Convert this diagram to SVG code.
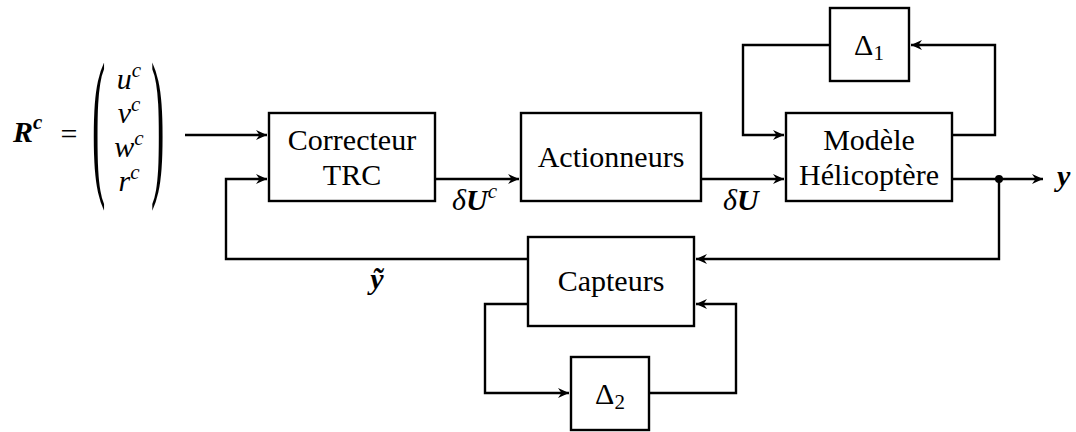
<svg xmlns="http://www.w3.org/2000/svg" width="1076" height="432" viewBox="0 0 1076 432">
<style>
.box{fill:#fff;stroke:#000;stroke-width:2.4}
.w{fill:none;stroke:#000;stroke-width:2.4;stroke-linejoin:miter}
text{font-family:Tinos,'Times New Roman',Times,'Liberation Serif','Noto Serif','DejaVu Serif',FreeSerif,Georgia,serif;font-size:30px;fill:#000}
.c{text-anchor:middle}
.m{font-style:italic}
.b{font-style:italic;font-weight:bold}
.s{font-size:21px}
</style>
<defs>
<marker id="ah" viewBox="-12 -6 13 12" refX="0" refY="0" markerWidth="13" markerHeight="12" markerUnits="userSpaceOnUse" orient="auto">
<path d="M0,0 L-11,-5 L-7.5,0 L-11,5 Z" fill="#000"/>
</marker>
</defs>
<rect width="1076" height="432" fill="#fff"/>

<g id="input">
<text x="13" y="142"><tspan class="b">R</tspan><tspan class="b s" dy="-13">c</tspan></text>
<text x="69" y="144" class="c">=</text>
<text transform="translate(92,176) scale(1,4.07)" style="font-size:40px">(</text>
<text transform="translate(151,176) scale(1,4.07)" style="font-size:40px">)</text>
<text x="129" y="89" class="c"><tspan class="m">u</tspan><tspan class="m s" dy="-12">c</tspan></text>
<text x="129" y="123" class="c"><tspan class="m">v</tspan><tspan class="m s" dy="-12">c</tspan></text>
<text x="129" y="157" class="c"><tspan class="m">w</tspan><tspan class="m s" dy="-12">c</tspan></text>
<text x="129" y="191" class="c"><tspan class="m">r</tspan><tspan class="m s" dy="-12">c</tspan></text>
</g>

<g id="connectors">
<path class="w" d="M185,135 H267" marker-end="url(#ah)"/>
<path class="w" d="M435,179 H519" marker-end="url(#ah)"/>
<path class="w" d="M701,179 H784" marker-end="url(#ah)"/>
<path class="w" d="M952,179 H1043" marker-end="url(#ah)"/>
<path class="w" d="M999,179 V259 H696" marker-end="url(#ah)"/>
<path class="w" d="M528,259 H226 V179 H267" marker-end="url(#ah)"/>
<path class="w" d="M952,135 H995 V45 H911" marker-end="url(#ah)"/>
<path class="w" d="M830,45 H743 V135 H784" marker-end="url(#ah)"/>
<path class="w" d="M528,304 H485 V393 H569" marker-end="url(#ah)"/>
<path class="w" d="M649,393 H736 V304 H696" marker-end="url(#ah)"/>
<circle cx="999" cy="179" r="4" fill="#000"/>
</g>

<g id="labels">
<text x="452" y="210"><tspan class="m">δ</tspan><tspan class="b">U</tspan><tspan class="m s" dy="-12">c</tspan></text>
<text x="723" y="210"><tspan class="m">δ</tspan><tspan class="b">U</tspan></text>
<text x="377" y="289" class="c b">ỹ</text>
<text x="1057" y="186" class="b">y</text>
</g>

<g id="correcteur">
<rect class="box" x="269" y="113" width="166" height="88"/>
<text x="352" y="150" class="c">Correcteur</text>
<text x="352" y="185" class="c">TRC</text>
</g>

<g id="actionneurs">
<rect class="box" x="521" y="113" width="180" height="88"/>
<text x="611" y="167" class="c">Actionneurs</text>
</g>

<g id="modele">
<rect class="box" x="786" y="113" width="166" height="88"/>
<text x="869" y="150" class="c">Modèle</text>
<text x="869" y="185" class="c">Hélicoptère</text>
</g>

<g id="delta1">
<rect class="box" x="830" y="8" width="79" height="73"/>
<text x="869" y="55" class="c">Δ<tspan class="s" dy="5">1</tspan></text>
</g>

<g id="capteurs">
<rect class="box" x="528" y="237" width="166" height="89"/>
<text x="611" y="291" class="c">Capteurs</text>
</g>

<g id="delta2">
<rect class="box" x="571" y="357" width="78" height="73"/>
<text x="610" y="404" class="c">Δ<tspan class="s" dy="5">2</tspan></text>
</g>
</svg>
